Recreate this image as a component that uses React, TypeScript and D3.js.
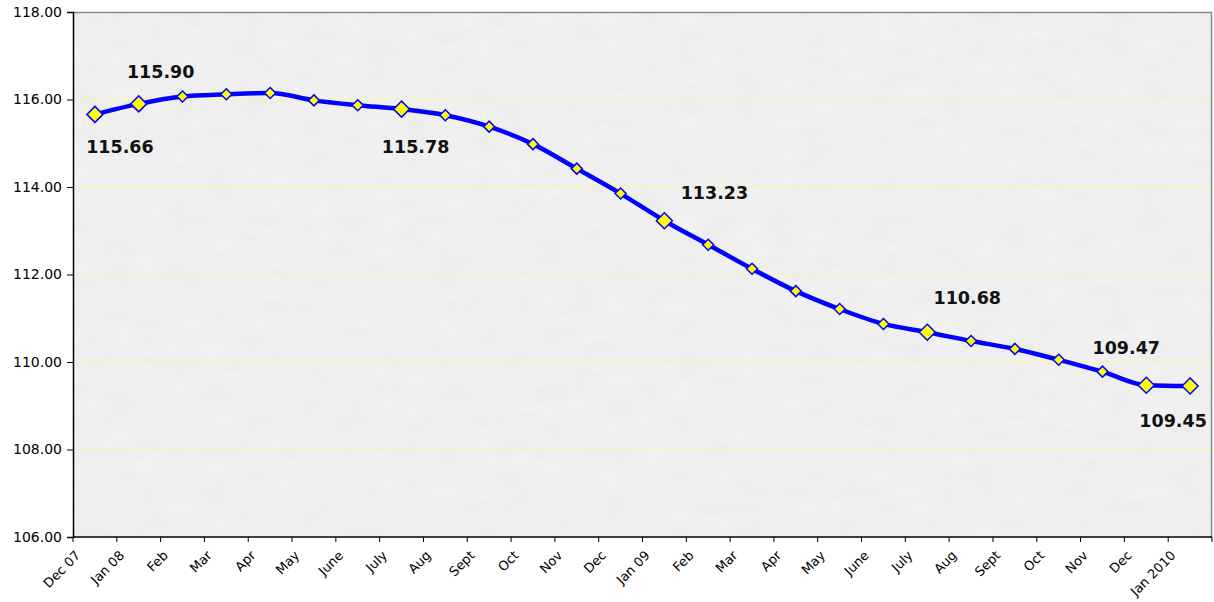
import React, { useEffect, useRef } from 'react';
import * as d3 from 'd3';

const months = ['Dec 07', 'Jan 08', 'Feb', 'Mar', 'Apr', 'May', 'June', 'July', 'Aug', 'Sept', 'Oct', 'Nov', 'Dec',
  'Jan 09', 'Feb', 'Mar', 'Apr', 'May', 'June', 'July', 'Aug', 'Sept', 'Oct', 'Nov', 'Dec', 'Jan 2010'];
const values = [115.66, 115.90, 116.07, 116.12, 116.15, 115.98, 115.87, 115.78, 115.64, 115.38, 114.98, 114.42, 113.85,
  113.23, 112.68, 112.13, 111.62, 111.21, 110.87, 110.68, 110.48, 110.30, 110.05, 109.78, 109.47, 109.45];
const yTicks = [106, 108, 110, 112, 114, 116, 118];
// labelled points: index, label text, offset of label centre from point
const labelled = [
  { i: 0, text: '115.66', dx: 25, dy: 32 },
  { i: 1, text: '115.90', dx: 22, dy: -32 },
  { i: 7, text: '115.78', dx: 14, dy: 38 },
  { i: 13, text: '113.23', dx: 50, dy: -28 },
  { i: 19, text: '110.68', dx: 40, dy: -34 },
  { i: 24, text: '109.47', dx: -20, dy: -37 },
  { i: 25, text: '109.45', dx: -17, dy: 35 },
];

const W = 1214;
const H = 602;
const margin = { top: 12, right: 2, bottom: 65, left: 73 };
const FONT = 'Verdana, "DejaVu Sans", sans-serif';

const App: React.FC = () => {
  const svgRef = useRef<SVGSVGElement>(null);

  useEffect(() => {
    if (!svgRef.current) return;
    const svg = d3.select(svgRef.current);
    svg.selectAll('*').remove();

    const x = d3.scaleBand<number>()
      .domain(d3.range(months.length))
      .range([margin.left, W - margin.right]);
    const y = d3.scaleLinear().domain([106, 118]).range([H - margin.bottom, margin.top]);

    // textured background
    const defs = svg.append('defs');
    const filter = defs.append('filter').attr('id', 'tex').attr('x', 0).attr('y', 0).attr('width', 1).attr('height', 1);
    filter.append('feTurbulence').attr('type', 'fractalNoise').attr('baseFrequency', '0.03 0.07').attr('numOctaves', 3).attr('seed', 4);
    filter.append('feColorMatrix').attr('type', 'matrix')
      .attr('values', '0 0 0 0 0.55  0 0 0 0 0.55  0 0 0 0 0.55  0 0 0 0.16 0');
    filter.append('feComposite').attr('in2', 'SourceGraphic').attr('operator', 'in');

    const pw = W - margin.left - margin.right;
    const ph = H - margin.top - margin.bottom;
    svg.append('rect').attr('x', margin.left).attr('y', margin.top).attr('width', pw).attr('height', ph).attr('fill', '#f3f3f3');
    svg.append('rect').attr('x', margin.left).attr('y', margin.top).attr('width', pw).attr('height', ph)
      .attr('fill', '#f3f3f3').attr('filter', 'url(#tex)');

    // grid
    svg.append('g').selectAll('line').data(yTicks.slice(1, -1)).enter().append('line')
      .attr('x1', margin.left).attr('x2', W - margin.right)
      .attr('y1', d => y(d)).attr('y2', d => y(d))
      .attr('stroke', '#f6f6a0').attr('stroke-width', 1);

    // frame top/right
    svg.append('path')
      .attr('d', `M${margin.left},${margin.top + 0.5}H${W - margin.right - 0.5}V${H - margin.bottom}`)
      .attr('fill', 'none').attr('stroke', '#8c8c8c').attr('stroke-width', 1.5);

    // y axis
    const yAxis = svg.append('g').attr('transform', `translate(${margin.left},0)`)
      .call(d3.axisLeft(y).tickValues(yTicks).tickSize(6).tickPadding(5).tickFormat(d => (d as number).toFixed(2)));
    yAxis.select('.domain').attr('stroke', '#000').attr('stroke-width', 1.5);
    yAxis.selectAll('.tick line').attr('stroke', '#000');
    yAxis.selectAll('text').attr('font-family', FONT).attr('font-size', 14).attr('fill', '#000');

    // x axis (ticks at band edges)
    const xg = svg.append('g').attr('transform', `translate(0,${H - margin.bottom})`);
    xg.append('line').attr('x1', margin.left).attr('x2', W - margin.right).attr('stroke', '#000').attr('stroke-width', 1.5);
    const edges = d3.range(months.length + 1).map(i => margin.left + i * x.step());
    xg.selectAll('.tk').data(edges).enter().append('line')
      .attr('x1', d => d).attr('x2', d => d).attr('y1', 0).attr('y2', 5).attr('stroke', '#000');
    xg.selectAll('.lbl').data(months).enter().append('text')
      .attr('transform', (d, i) => `translate(${(x(i) ?? 0) + 5},${16}) rotate(-45)`)
      .attr('text-anchor', 'end')
      .attr('dy', '0.35em')
      .attr('font-family', FONT)
      .attr('font-size', 13)
      .attr('fill', '#000')
      .text(d => d);

    const cx = (i: number) => (x(i) ?? 0) + x.bandwidth() / 2;

    // line
    const line = d3.line<number>()
      .x((d, i) => cx(i))
      .y(d => y(d))
      .curve(d3.curveMonotoneX);
    svg.append('path').datum(values)
      .attr('fill', 'none').attr('stroke', '#0000ff').attr('stroke-width', 4.5)
      .attr('stroke-linejoin', 'round').attr('d', line);

    // markers
    const big = new Set(labelled.map(l => l.i));
    const diamond = (s: number) => `M0,${-s}L${s},0L0,${s}L${-s},0Z`;
    svg.append('g').selectAll('path').data(values).enter().append('path')
      .attr('transform', (d, i) => `translate(${cx(i)},${y(d)})`)
      .attr('d', (d, i) => diamond(big.has(i) ? 8 : 5.5))
      .attr('fill', '#ffff00').attr('stroke', '#0000ff').attr('stroke-width', 1.5);

    // data labels
    svg.append('g').selectAll('text').data(labelled).enter().append('text')
      .attr('x', d => cx(d.i) + d.dx)
      .attr('y', d => y(values[d.i]) + d.dy)
      .attr('text-anchor', 'middle').attr('dy', '0.35em')
      .attr('font-family', FONT)
      .attr('font-weight', 'bold').attr('font-size', 17.5).attr('fill', '#111')
      .text(d => d.text);
  }, []);

  return (
    <svg ref={svgRef} width={W} height={H} style={{ position: 'absolute', left: 0, top: 0 }} />
  );
};

export default App;
